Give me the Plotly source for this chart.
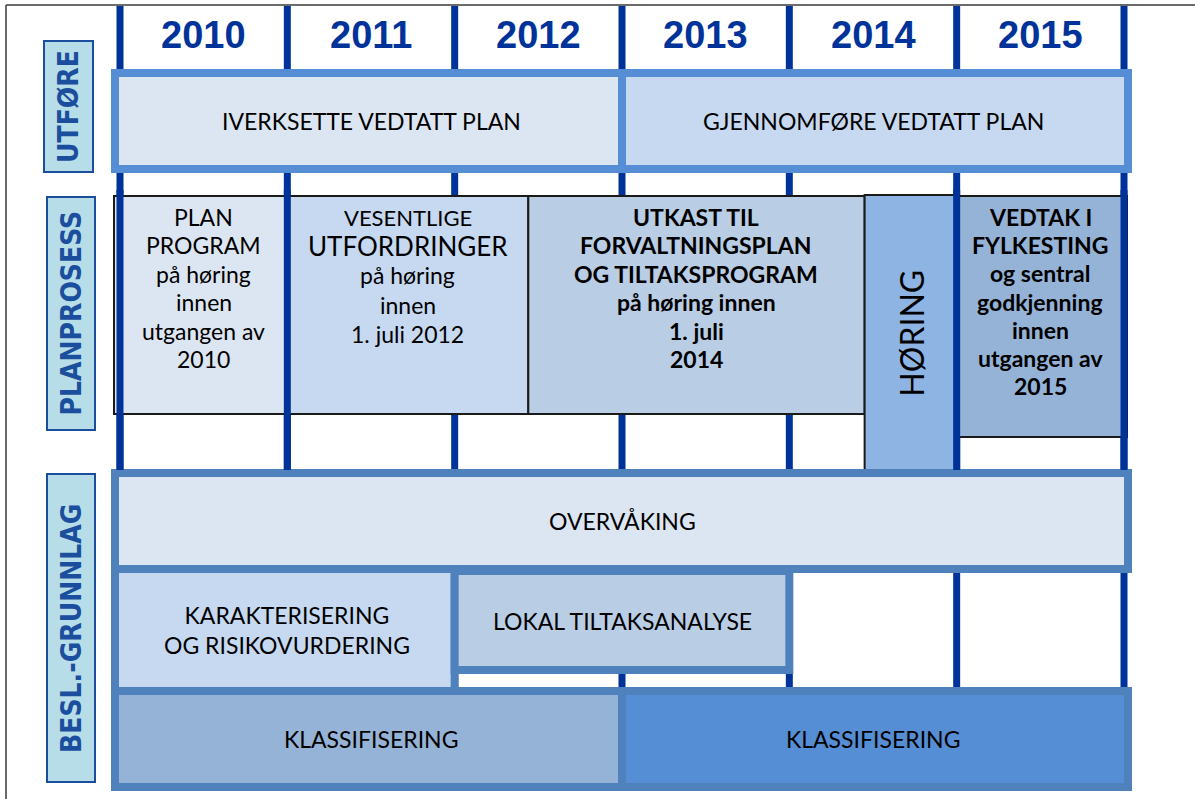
import plotly.graph_objects as go

# ---------------- data ----------------
years = [2010, 2011, 2012, 2013, 2014, 2015]
row_titles = ["UTFØRE", "PLANPROSESS", "BESL.-GRUNNLAG"]

utfore_labels = ["IVERKSETTE VEDTATT PLAN", "GJENNOMFØRE VEDTATT PLAN"]
utfore_start = [2010, 2013]
utfore_end = [2013, 2016]

plan_labels = [
    ["PLAN", "PROGRAM", "på høring", "innen", "utgangen av", "2010"],
    ["VESENTLIGE", "UTFORDRINGER", "på høring", "innen", "1. juli 2012"],
    ["UTKAST TIL", "FORVALTNINGSPLAN", "OG TILTAKSPROGRAM", "på høring innen", "1. juli", "2014"],
    ["HØRING"],
    ["VEDTAK I", "FYLKESTING", "og sentral", "godkjenning", "innen", "utgangen av", "2015"],
]
plan_start = [2010, 2011, 2012.44, 2014.45, 2015]
plan_end = [2011, 2012.44, 2014.45, 2015, 2016]

besl_labels = ["OVERVÅKING", "KLASSIFISERING", "KLASSIFISERING",
               "KARAKTERISERING<br>OG RISIKOVURDERING", "LOKAL TILTAKSANALYSE"]
besl_start = [2010, 2010, 2013, 2010, 2012]
besl_end = [2016, 2013, 2016, 2012, 2014]

# ---------------- layout / style ----------------
W, H = 1195, 799
X_FIRST_PX, X_LAST_PX = 120, 1124
YEAR_PX = (X_LAST_PX - X_FIRST_PX) / 6.0
FIRST_YEAR, LAST_EDGE = years[0], years[-1] + 1


def px2x(p):
    return FIRST_YEAR + (p - X_FIRST_PX) / YEAR_PX


def pad(px):
    return px / YEAR_PX


LINE_BLUE = "#003399"
TITLE_BLUE = "#1C4E9E"
TEXT_FONT = "Lato, 'Open Sans', sans-serif"

utf_top, utf_bot = [73, 73], [169, 169]
utf_fill = ["#DCE6F2", "#C6D9F1"]

plan_top = [196, 196, 196, 195, 196]
plan_bot = [414, 414, 414, 472, 437]
plan_fill = ["#DCE6F2", "#C6D9F1", "#B9CDE5", "#8EB4E3", "#95B3D7"]
plan_bold = [False, False, True, False, True]
plan_sizes = [[23] * 6, [22, 26, 23, 23, 23], [23] * 6, [32], [23] * 7]
plan_steps = [28.4, 29.2, 28.4, 0, 28.2]

besl_top = [473, 691, 691, 569, 571]
besl_bot = [569, 787, 787, 691, 670]
besl_fill = ["#DCE6F2", "#95B3D7", "#558ED5", "#C6D9F1", "#B9CDE5"]

title_box_x = [(44, 93), (47, 95), (47, 95)]
title_box_y = [(41, 172), (197, 430), (474, 782)]

fig = go.Figure()


def add_boxes(starts, ends, tops, bots, fills, line_color, line_w, lpad, rpad):
    base = [s - (pad(lpad) if s == FIRST_YEAR else 0) for s in starts]
    right = [e + (pad(rpad) if e == LAST_EDGE else 0) for e in ends]
    widths = [r - b for r, b in zip(right, base)]
    ycen = [(t + b) / 2 for t, b in zip(tops, bots)]
    hts = [b - t for t, b in zip(tops, bots)]
    fig.add_trace(go.Bar(
        orientation="h", base=base, x=widths, y=ycen, width=hts,
        marker=dict(color=fills, line=dict(color=line_color, width=line_w)),
        hoverinfo="skip", showlegend=False,
    ))


add_boxes(utfore_start, utfore_end, utf_top, utf_bot, utf_fill, "#558ED5", 8, 5, 4)
add_boxes(plan_start, plan_end, plan_top, plan_bot, plan_fill, "#1A1A1A", 2, 6, 3)
add_boxes(besl_start, besl_end, besl_top, besl_bot, besl_fill, "#4F81BD", 8, 5, 4)

shapes = []
# outer frame (top and left edges)
shapes.append(dict(type="line", xref="x", yref="y", x0=px2x(6), x1=px2x(W + 5), y0=5, y1=5,
                   line=dict(color="#3A3A3A", width=1.5), layer="below"))
shapes.append(dict(type="line", xref="x", yref="y", x0=px2x(6), x1=px2x(6), y0=5, y1=H + 5,
                   line=dict(color="#3A3A3A", width=1.5), layer="below"))
# year boundary lines (behind the boxes)
boundaries = years + [LAST_EDGE]
for b in boundaries:
    shapes.append(dict(type="line", xref="x", yref="y", x0=b, x1=b, y0=6, y1=790,
                       line=dict(color=LINE_BLUE, width=7), layer="below"))
# boundary lines drawn over the planning-process row
for b in [2010, 2011, 2015, 2016]:
    shapes.append(dict(type="line", xref="x", yref="y", x0=b, x1=b, y0=190, y1=470,
                       line=dict(color=LINE_BLUE, width=7), layer="above"))
# row title boxes
for (xa, xb), (ya, yb) in zip(title_box_x, title_box_y):
    shapes.append(dict(type="rect", xref="x", yref="y", x0=px2x(xa), x1=px2x(xb), y0=ya, y1=yb,
                       fillcolor="#B7DEE8", line=dict(color=TITLE_BLUE, width=2), layer="above"))

annotations = []
for y in years:
    annotations.append(dict(x=y + 0.5, y=35, xref="x", yref="y", text=f"<b>{y}</b>",
                            showarrow=False, font=dict(family="'Liberation Sans', Arial, sans-serif",
                                                       size=38, color=LINE_BLUE)))
for t, (xa, xb), (ya, yb) in zip(row_titles, title_box_x, title_box_y):
    annotations.append(dict(x=px2x((xa + xb) / 2), y=(ya + yb) / 2, xref="x", yref="y",
                            text=f"<b>{t}</b>", textangle=-90, showarrow=False,
                            font=dict(family="'Liberation Sans Narrow', 'Arial Narrow', 'DejaVu Sans Condensed', sans-serif",
                                      size=28, color=TITLE_BLUE)))

for lab, s, e, t, b in zip(utfore_labels, utfore_start, utfore_end, utf_top, utf_bot):
    annotations.append(dict(x=(s + e) / 2, y=(t + b) / 2, xref="x", yref="y", text=lab,
                            showarrow=False, font=dict(family=TEXT_FONT, size=23, color="#000000")))
for lab, s, e, t, b in zip(besl_labels, besl_start, besl_end, besl_top, besl_bot):
    annotations.append(dict(x=(s + e) / 2, y=(t + b) / 2, xref="x", yref="y", text=lab,
                            showarrow=False, font=dict(family=TEXT_FONT, size=23, color="#000000")))
for lines, s, e, t, bold, sizes, step in zip(plan_labels, plan_start, plan_end, plan_top,
                                              plan_bold, plan_sizes, plan_steps):
    if len(lines) == 1:
        annotations.append(dict(x=(s + e) / 2, y=333, xref="x", yref="y", text=lines[0],
                                textangle=-90, showarrow=False,
                                font=dict(family=TEXT_FONT, size=sizes[0], color="#000000")))
        continue
    for k, (ln, sz) in enumerate(zip(lines, sizes)):
        annotations.append(dict(x=(s + e) / 2, y=t + 21 + k * step, xref="x", yref="y",
                                text=f"<b>{ln}</b>" if bold else ln, showarrow=False,
                                font=dict(family=TEXT_FONT, size=sz, color="#000000")))

fig.update_layout(
    width=W, height=H, margin=dict(l=0, r=0, t=0, b=0),
    paper_bgcolor="white", plot_bgcolor="white",
    barmode="overlay", bargap=0,
    xaxis=dict(range=[px2x(0), px2x(W)], visible=False, fixedrange=True),
    yaxis=dict(range=[H, 0], visible=False, fixedrange=True),
    shapes=shapes, annotations=annotations, showlegend=False,
)

fig.write_html("out.html", config={"displayModeBar": False, "staticPlot": True},
               post_script="document.body.style.margin='0';document.body.style.overflow='hidden';")
